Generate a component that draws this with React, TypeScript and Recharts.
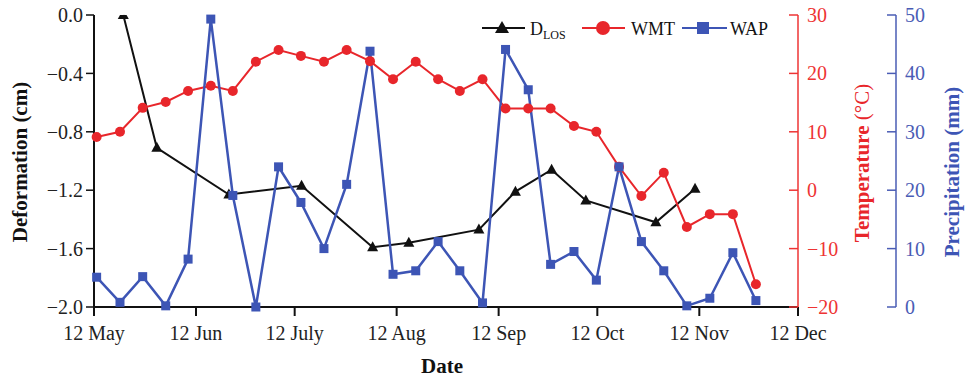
import React from 'react';
import { LineChart, Line, XAxis, YAxis, Legend } from 'recharts';

// ---------- data ----------
// x positions are days after 12 May
const monthTicks = [0, 31, 61, 92, 123, 153, 184, 214];
const monthLabels = ['12 May', '12 Jun', '12 July', '12 Aug', '12 Sep', '12 Oct', '12 Nov', '12 Dec'];

const deformTicks = [-2, -1.6, -1.2, -0.8, -0.4, 0];
const tempTicks = [-20, -10, 0, 10, 20, 30];
const precTicks = [0, 10, 20, 30, 40, 50];

// D_LOS (cm)
const dlosDays = [8.9, 19.1, 41.0, 63.1, 84.7, 95.7, 117.0, 128.1, 139.1, 149.5, 170.8, 182.7];
const dlosValues = [0.0, -0.91, -1.23, -1.17, -1.59, -1.56, -1.47, -1.21, -1.06, -1.27, -1.42, -1.19];

// weekly WMT (°C) and WAP (mm)
const weekDays = [
  0.8, 7.9, 14.8, 21.8, 28.6, 35.5, 42.2, 49.2, 56.1, 62.9,
  69.9, 76.8, 83.9, 90.9, 97.8, 104.6, 111.2, 118.1, 125.1, 132.0,
  138.8, 145.9, 152.7, 159.6, 166.4, 173.2, 180.2, 187.2, 194.2, 201.2,
];
const wmtValues = [
  9.1, 10, 14.1, 15.1, 17, 17.9, 17, 22, 24, 23,
  22, 24, 22.1, 19, 22, 19, 17, 19, 14, 14,
  14, 11, 10, 4, -1, 3, -6.3, -4.1, -4.1, -16.1,
];
const wapValues = [
  5.1, 0.8, 5.2, 0.2, 8.2, 49.3, 19.1, 0, 24, 17.9,
  10, 21, 43.8, 5.6, 6.2, 11.2, 6.2, 0.7, 44.1, 37.2,
  7.3, 9.5, 4.6, 24, 11.2, 6.2, 0.2, 1.5, 9.3, 1.1,
];

const dlosData = dlosDays.map((d, i) => ({ d, v: dlosValues[i] }));
const wmtData = weekDays.map((d, i) => ({ d, v: wmtValues[i] }));
const wapData = weekDays.map((d, i) => ({ d, v: wapValues[i] }));

// ---------- styles ----------
const FONT = '"Liberation Serif", "Times New Roman", Times, serif';
const BLACK = '#111111';
const RED = '#e8262b';
const RED_AX = '#ee3434';
const BLUE = '#3d55b5';
const BLUE_AX = '#4a5cb5';
const TOP = 15;

const minus = (v: number, digits: number) => {
  const s = Math.abs(v).toFixed(digits);
  return v < 0 ? '\u2212' + s : s;
};

const makeRightTick = (color: string) => (props: any) => {
  const { x, y, payload } = props;
  return (
    <g>
      <line x1={x - 9} y1={y} x2={x} y2={y} stroke={color} strokeWidth={1.5} />
      <text x={x + 9} y={y} dy={7} fill={color} fontSize={20} fontFamily={FONT}>
        {minus(payload.value, 0)}
      </text>
    </g>
  );
};

const TriDot = (props: any) => {
  const { cx, cy, index } = props;
  if (cx == null || cy == null) return <g key={`t${index}`} />;
  const apex = cy - 6;
  const base = cy + 4;
  const half = 5.5;
  const top = Math.max(apex, TOP);
  const hw = ((top - apex) / (base - apex)) * half;
  const pts =
    top > apex
      ? `${cx - hw},${top} ${cx + hw},${top} ${cx + half},${base} ${cx - half},${base}`
      : `${cx},${apex} ${cx + half},${base} ${cx - half},${base}`;
  return <polygon key={`t${index}`} points={pts} fill={BLACK} />;
};

const SquareDot = (props: any) => {
  const { cx, cy, index } = props;
  if (cx == null || cy == null) return <g key={`s${index}`} />;
  return <rect key={`s${index}`} x={cx - 4.5} y={cy - 4.5} width={9} height={9} fill={BLUE} />;
};

const LeftTitle = () => (
  <text
    x={20}
    y={162}
    transform="rotate(-90 20 162)"
    textAnchor="middle"
    dy={7}
    fontFamily={FONT}
    fontWeight="bold"
    fontSize={21}
    fill={BLACK}
  >
    Deformation (cm)
  </text>
);

const TempTitle = () => (
  <text
    x={862}
    y={163}
    transform="rotate(-90 862 163)"
    textAnchor="middle"
    dy={7}
    fontFamily={FONT}
    fontSize={21}
    fill={RED}
  >
    <tspan fontWeight="bold">Temperature </tspan>
    <tspan>(°C)</tspan>
  </text>
);

const PrecTitle = () => (
  <text
    x={952}
    y={172}
    transform="rotate(-90 952 172)"
    textAnchor="middle"
    dy={7}
    fontFamily={FONT}
    fontWeight="bold"
    fontSize={21}
    fill={BLUE}
  >
    Precipitation (mm)
  </text>
);

const DateTitle = () => (
  <text x={442} y={373} textAnchor="middle" fontFamily={FONT} fontWeight="bold" fontSize={21} fill={BLACK}>
    Date
  </text>
);

const LegendBox = () => (
  <svg width={310} height={40} style={{ display: 'block' }}>
    <g fontFamily={FONT} fontSize={18} fill={BLACK}>
      <line x1={12} y1={20} x2={55} y2={20} stroke={BLACK} strokeWidth={2} />
      <polygon points="32,13 39,25 25,25" fill={BLACK} />
      <text x={60} y={27}>
        D<tspan fontSize={12} dy={4}>LOS</tspan>
      </text>
      <line x1={112} y1={20} x2={155} y2={20} stroke={RED} strokeWidth={2} />
      <circle cx={133} cy={20} r={7} fill={RED} />
      <text x={161} y={27}>WMT</text>
      <line x1={212} y1={20} x2={257} y2={20} stroke={BLUE} strokeWidth={2} />
      <rect x={227} y={14} width={12} height={12} fill={BLUE} />
      <text x={260} y={27}>WAP</text>
    </g>
  </svg>
);

export default function App() {
  return (
    <div style={{ position: 'absolute', left: 0, top: 0 }}>
      <LineChart width={965} height={378} margin={{ top: TOP, right: 0, bottom: 0, left: 0 }}>
        <XAxis
          type="number"
          dataKey="d"
          domain={[0, 214]}
          ticks={monthTicks}
          interval={0}
          tickFormatter={(v: number) => monthLabels[monthTicks.indexOf(v)] ?? ''}
          height={71}
          tickSize={9}
          tickMargin={10}
          axisLine={{ stroke: BLACK, strokeWidth: 2 }}
          tickLine={{ stroke: BLACK, strokeWidth: 2 }}
          tick={{ fill: '#222', fontSize: 20, fontFamily: FONT }}
          label={<DateTitle />}
        />
        <YAxis
          yAxisId="l0"
          domain={[-2, 0]}
          ticks={deformTicks}
          interval={0}
          width={94}
          tickSize={8}
          tickMargin={3}
          tickFormatter={(v: number) => minus(v, 1)}
          axisLine={{ stroke: BLACK, strokeWidth: 2 }}
          tickLine={{ stroke: BLACK, strokeWidth: 1.5 }}
          tick={{ fill: '#222', fontSize: 20, fontFamily: FONT }}
          label={<LeftTitle />}
        />
        <YAxis
          yAxisId="r1"
          orientation="right"
          domain={[-20, 30]}
          ticks={tempTicks}
          interval={0}
          width={98}
          tickSize={0}
          tickMargin={0}
          tickLine={false}
          axisLine={{ stroke: RED_AX, strokeWidth: 1.5 }}
          tick={makeRightTick(RED_AX)}
          label={<TempTitle />}
        />
        <YAxis
          yAxisId="r2"
          orientation="right"
          domain={[0, 50]}
          ticks={precTicks}
          interval={0}
          width={69}
          tickSize={0}
          tickMargin={0}
          tickLine={false}
          axisLine={{ stroke: BLUE_AX, strokeWidth: 1.5 }}
          tick={makeRightTick(BLUE_AX)}
          label={<PrecTitle />}
        />
        <Legend
          layout="vertical"
          align="center"
          verticalAlign="middle"
          content={() => <LegendBox />}
          wrapperStyle={{ top: 8, left: 470, width: 310, height: 40 }}
        />
        <Line
          yAxisId="l0"
          data={dlosData}
          dataKey="v"
          name="DLOS"
          type="linear"
          stroke={BLACK}
          strokeWidth={2}
          dot={TriDot}
          activeDot={false}
          isAnimationActive={false}
        />
        <Line
          yAxisId="r1"
          data={wmtData}
          dataKey="v"
          name="WMT"
          type="linear"
          stroke={RED}
          strokeWidth={2}
          dot={{ r: 5, fill: RED, stroke: RED, strokeWidth: 0 }}
          activeDot={false}
          isAnimationActive={false}
        />
        <Line
          yAxisId="r2"
          data={wapData}
          dataKey="v"
          name="WAP"
          type="linear"
          stroke={BLUE}
          strokeWidth={2.5}
          dot={SquareDot}
          activeDot={false}
          isAnimationActive={false}
        />
      </LineChart>
    </div>
  );
}
